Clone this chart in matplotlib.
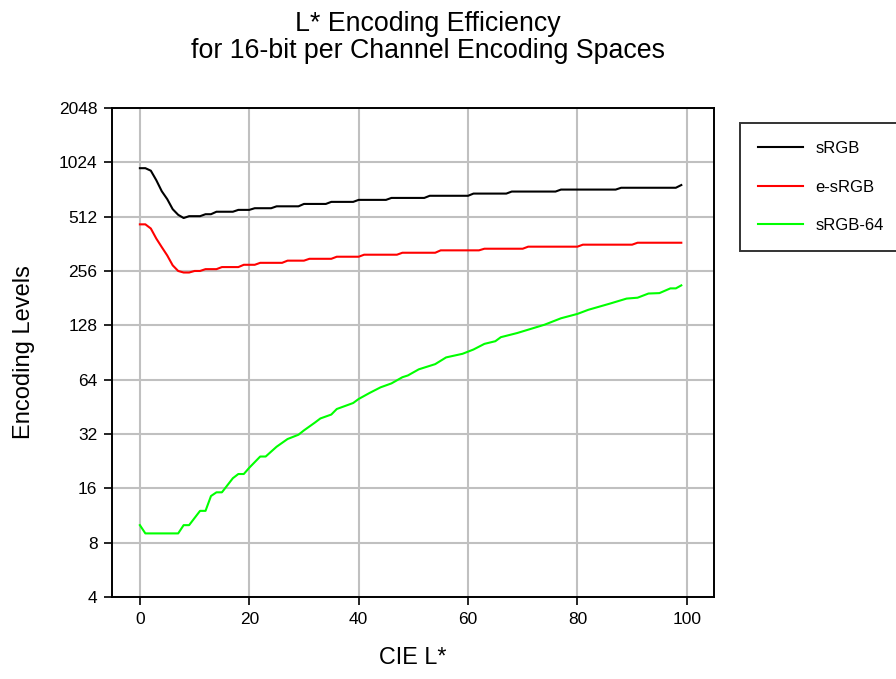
import matplotlib.pyplot as plt
from matplotlib.ticker import FixedLocator, NullLocator

plt.rcParams['font.family'] = ['Liberation Sans', 'DejaVu Sans']

# sRGB (black) - breakpoints
srgb_x = [0, 1, 2, 3, 4, 5, 6, 7, 8, 9, 11, 12, 13, 14, 17, 18, 20, 21, 24, 25,
          29, 30, 34, 35, 39, 40, 45, 46, 52, 53, 60, 61, 67, 68, 76, 77, 87, 88, 98, 99]
srgb_y = [950, 950, 920, 815, 708, 640, 563, 524, 503, 515, 515, 528, 528, 545, 545,
          558, 558, 570, 570, 584, 584, 602, 602, 618, 618, 634, 634, 650, 650, 668,
          668, 687, 687, 705, 705, 723, 723, 740, 740, 766]

# e-sRGB (red)
esrgb_x = [0, 1, 2, 3, 4, 5, 6, 7, 8, 9, 10, 11, 12, 14, 15, 18, 19, 21, 22, 26,
           27, 30, 31, 35, 36, 40, 41, 47, 48, 54, 55, 62, 63, 70, 71, 80, 81, 90, 91, 99]
esrgb_y = [464, 464, 440, 387, 347, 312, 275, 256, 251, 251, 256, 256, 262, 262, 269,
           269, 277, 277, 284, 284, 292, 292, 299, 299, 307, 307, 315, 315, 323, 323,
           333, 333, 340, 340, 349, 349, 358, 358, 367, 367]

# sRGB-64 (green)
srgb64_x = [0, 1, 7, 8, 9, 11, 12, 13, 14, 15, 17, 18, 19, 20, 22, 23, 25, 27, 29, 30,
            32, 33, 35, 36, 39, 40, 42, 44, 46, 48, 49, 51, 54, 56, 59, 61, 63, 65, 66,
            69, 74, 77, 80, 82, 86, 89, 91, 93, 95, 97, 98, 99]
srgb64_y = [10, 9, 9, 10, 10, 12, 12, 14.5, 15.2, 15.2, 18.2, 19.2, 19.2, 20.8, 24, 24,
            27.2, 30, 31.7, 33.5, 37, 39, 41, 44, 47.5, 50, 54, 58, 61, 66, 67.5, 73, 78,
            85, 89, 94, 101, 104.5, 110, 116, 129, 140, 148, 156, 169, 180, 182, 192, 193,
            205, 205, 213]

y_ticks = [4, 8, 16, 32, 64, 128, 256, 512, 1024, 2048]
x_ticks = [0, 20, 40, 60, 80, 100]

fig = plt.figure(figsize=(8.96, 6.79), dpi=100)
ax = fig.add_axes([0.125, 0.1208, 0.672, 0.7202])

ax.plot(srgb_x, srgb_y, color='black', lw=1.5, label='sRGB')
ax.plot(esrgb_x, esrgb_y, color='#ff0000', lw=1.5, label='e-sRGB')
ax.plot(srgb64_x, srgb64_y, color='#00ff00', lw=1.5, label='sRGB-64')

ax.set_yscale('log', base=2)
ax.set_ylim(4, 2048)
ax.set_xlim(-5.1, 105)
ax.yaxis.set_major_locator(FixedLocator(y_ticks))
ax.yaxis.set_minor_locator(NullLocator())
ax.set_yticklabels([str(v) for v in y_ticks])
ax.set_xticks(x_ticks)

ax.grid(True, color='#c0c0c0', lw=1.5)
ax.set_axisbelow(True)
for s in ax.spines.values():
    s.set_linewidth(1.4)
    s.set_color('black')
ax.tick_params(direction='out', length=5.5, width=1.2, labelsize=12.5, pad=5)

ax.set_xlabel('CIE L*', fontsize=16.8, labelpad=14)
ax.set_ylabel('Encoding Levels', fontsize=17, labelpad=17)
fig.suptitle('L* Encoding Efficiency\nfor 16-bit per Channel Encoding Spaces',
             fontsize=19.3, x=0.478, y=0.984, linespacing=1.05)

leg = ax.legend(loc='upper left', bbox_to_anchor=(0.826, 0.819),
                bbox_transform=fig.transFigure, borderaxespad=0,
                fontsize=12, frameon=True, fancybox=False, edgecolor='black',
                handlelength=2.7, handletextpad=0.7, labelspacing=1.4,
                borderpad=1.1)
leg.get_frame().set_linewidth(1.4)

fig.savefig('out.png', dpi=100)
